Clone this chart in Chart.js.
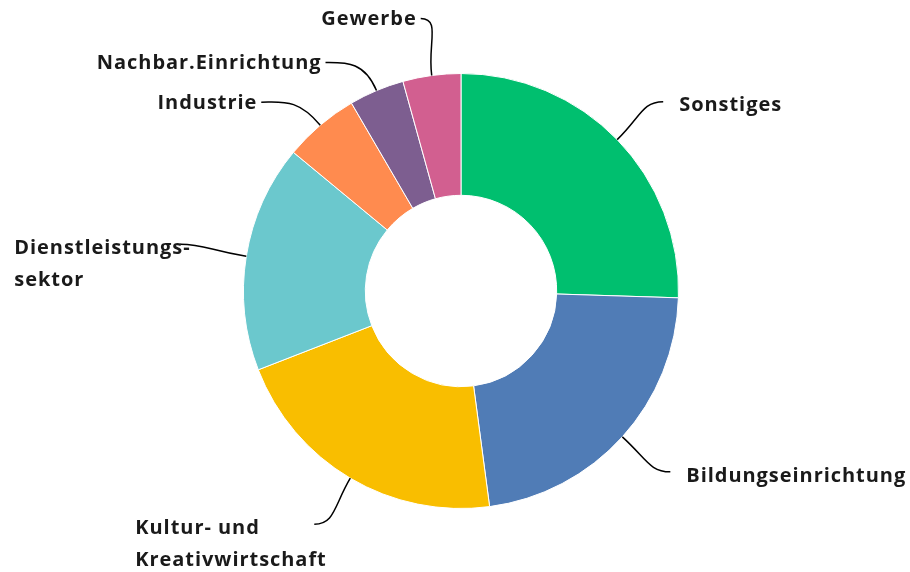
<!DOCTYPE html>
<html>
<head>
<meta charset="utf-8">
<script src="https://cdn.jsdelivr.net/npm/chart.js@4.4.0/dist/chart.umd.min.js"></script>
<style>
    html, body { margin: 0; padding: 0; background: #fff; }
    #wrap { width: 910px; height: 572px; position: relative; }
</style>
</head>
<body>
<div id="wrap"><canvas id="donut"></canvas></div>
<script>
// Data (share in %), clockwise from 12 o'clock
const categories = ['Sonstiges', 'Bildungseinrichtung', 'Kultur- und Kreativwirtschaft',
    'Dienstleistungssektor', 'Industrie', 'Nachbar.Einrichtung', 'Gewerbe'];
const labelLines = [['Sonstiges'], ['Bildungseinrichtung'], ['Kultur- und', 'Kreativwirtschaft'],
    ['Dienstleistungs-', 'sektor'], ['Industrie'], ['Nachbar.Einrichtung'], ['Gewerbe']];
const shares = [25.5, 22.4, 21.2, 16.9, 5.6, 4.1, 4.3];
const colors = ['#00BF6F', '#507CB6', '#F9BE00', '#6BC8CD', '#FF8B4F', '#7D5E90', '#D25F90'];

// Leader line end relative to the slice's outer edge point, and text side
const labelLayout = [
    { dx: 46, dy: -38, side: 'right' },
    { dx: 48, dy: 35, side: 'right' },
    { dx: -36, dy: 46, side: 'left', blockWidth: 179 },
    { dx: -66, dy: -12, side: 'left', blockWidth: 166 },
    { dx: -59, dy: -23, side: 'left' },
    { dx: -51, dy: -28, side: 'left' },
    { dx: -11, dy: -57, side: 'left' }
];

const FONT = '700 20px "Open Sans", sans-serif';

// Draws outside labels with curved leader lines
const leaderLabels = {
    id: 'leaderLabels',
    afterDraw(chart) {
        const ctx = chart.ctx;
        const meta = chart.getDatasetMeta(0);
        ctx.save();
        ctx.font = FONT;
        ctx.letterSpacing = '0.95px';
        ctx.fillStyle = '#1a1a1a';
        ctx.strokeStyle = '#000';
        ctx.lineWidth = 1.5;
        ctx.textBaseline = 'middle';
        meta.data.forEach((arc, i) => {
            const p = arc.getProps(['x', 'y', 'startAngle', 'endAngle', 'outerRadius'], true);
            const mid = (p.startAngle + p.endAngle) / 2;
            const sx = p.x + Math.cos(mid) * p.outerRadius;
            const sy = p.y + Math.sin(mid) * p.outerRadius;
            const lay = labelLayout[i];
            const ex = sx + lay.dx;
            const ey = sy + lay.dy;
            const len = Math.hypot(lay.dx, lay.dy);
            const dir = lay.side === 'right' ? 1 : -1;
            ctx.beginPath();
            ctx.moveTo(sx, sy);
            ctx.bezierCurveTo(
                sx + Math.cos(mid) * len * 0.55, sy + Math.sin(mid) * len * 0.55,
                ex - dir * len * 0.35, ey,
                ex, ey);
            ctx.stroke();

            const lines = labelLines[i];
            const lh = 32;
            if (lay.side === 'right') {
                ctx.textAlign = 'left';
                lines.forEach((t, k) => ctx.fillText(t, ex + 16, ey + 4 + k * lh));
            } else if (lay.blockWidth) {
                ctx.textAlign = 'left';
                const left = ex - lay.blockWidth;
                lines.forEach((t, k) => ctx.fillText(t, left, ey + 4 + k * lh));
            } else {
                ctx.textAlign = 'right';
                lines.forEach((t, k) => ctx.fillText(t, ex - 4, ey + 1 + k * lh));
            }
        });
        ctx.restore();
    }
};

const ctx = document.getElementById('donut').getContext('2d');
new Chart(ctx, {
    type: 'doughnut',
    data: {
        labels: categories,
        datasets: [{
            data: shares,
            backgroundColor: colors,
            borderColor: '#ffffff',
            borderWidth: 1
        }]
    },
    options: {
        responsive: true,
        maintainAspectRatio: false,
        animation: false,
        cutout: '44%',
        layout: {
            padding: { top: 73, bottom: 63, left: 243, right: 231 }
        },
        plugins: {
            legend: { display: false },
            tooltip: { enabled: false }
        }
    },
    plugins: [leaderLabels]
});
</script>
</body>
</html>
